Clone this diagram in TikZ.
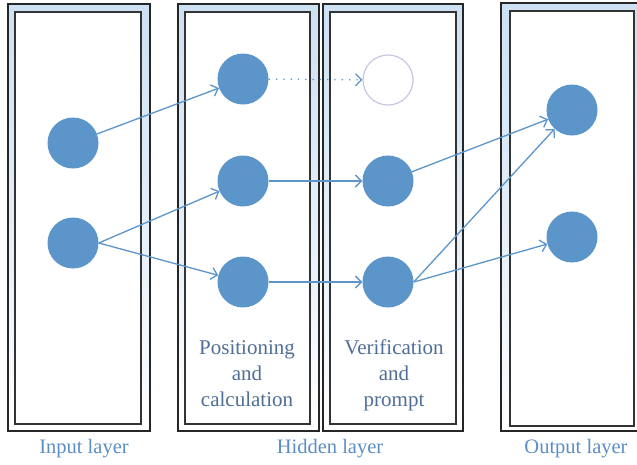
\documentclass[tikz,border=0pt]{standalone}
\usepackage{fontspec}
\setmainfont{Liberation Serif}
\usetikzlibrary{arrows.meta}
\definecolor{nodeblue}{HTML}{5B95C9}
\definecolor{bandblue}{HTML}{CCE1F3}
\definecolor{inlabel}{HTML}{4F6F96}
\definecolor{outlabel}{HTML}{5B8EC4}
\definecolor{hollow}{HTML}{C6C8E4}
\tikzset{
  band/.style={draw=black!85, line width=1.3pt, top color=bandblue, bottom color=white, middle color=bandblue!55},
  inner/.style={draw=black!80, line width=1.3pt, fill=white},
  neuron/.style={circle, fill=nodeblue, minimum size=51pt, inner sep=0pt},
  ghost/.style={circle, draw=hollow, line width=1.2pt, fill=white, minimum size=50pt, inner sep=0pt},
  link/.style={draw=nodeblue, line width=1.3pt, -{Straight Barb[length=6pt,width=12pt]}},
  boxtext/.style={text=inlabel, align=center, anchor=north, font=\fontsize{21}{26}\selectfont},
  laytext/.style={text=outlabel, font=\fontsize{20.5}{24}\selectfont}
}
\begin{document}
\begin{tikzpicture}[x=1pt,y=-1pt]
\useasboundingbox (0,0) rectangle (637,464);
% layer boxes
\draw[band] (8,4) rectangle (150,431);
\draw[inner] (15,12) rectangle (141,424);
\draw[band] (178,4) rectangle (319,431);
\draw[inner] (185,12) rectangle (310,424);
\draw[band] (323,4) rectangle (463,431);
\draw[inner] (330,12) rectangle (456,424);
\draw[band] (501,3) rectangle (640,431);
\draw[inner] (510,11) rectangle (634,426);
% neurons
\node[neuron] (i1) at (73,143) {};
\node[neuron] (i2) at (73,243) {};
\node[neuron] (h1) at (243,79) {};
\node[neuron] (h2) at (243,181) {};
\node[neuron] (h3) at (243,282) {};
\node[ghost]  (v1) at (388,80) {};
\node[neuron] (v2) at (388,181) {};
\node[neuron] (v3) at (388,282) {};
\node[neuron] (o1) at (572,110) {};
\node[neuron] (o2) at (572,237) {};
% connections
\draw[link] (i1) -- (h1);
\draw[link] (i2.east) -- (h2);
\draw[link] (i2.east) -- (h3);
\draw[link, dash pattern=on 1.3pt off 6pt] (h1) -- (v1);
\draw[link] (h2) -- (v2);
\draw[link] (h3) -- (v3);
\draw[link] (v2) -- (o1);
\draw[link] (v3.east) -- (o1);
\draw[link] (v3.east) -- (o2);
% texts
\node[boxtext] (t1) at (247,337) {Positioning\\and\\calculation};
\node[boxtext] (t2) at (394,336) {Verification\\and\\prompt};
\node[laytext] (l1) at (84,449) {Input layer};
\node[laytext] (l2) at (330,449) {Hidden layer};
\node[laytext] (l3) at (576,449) {Output layer};
\end{tikzpicture}
\end{document}
